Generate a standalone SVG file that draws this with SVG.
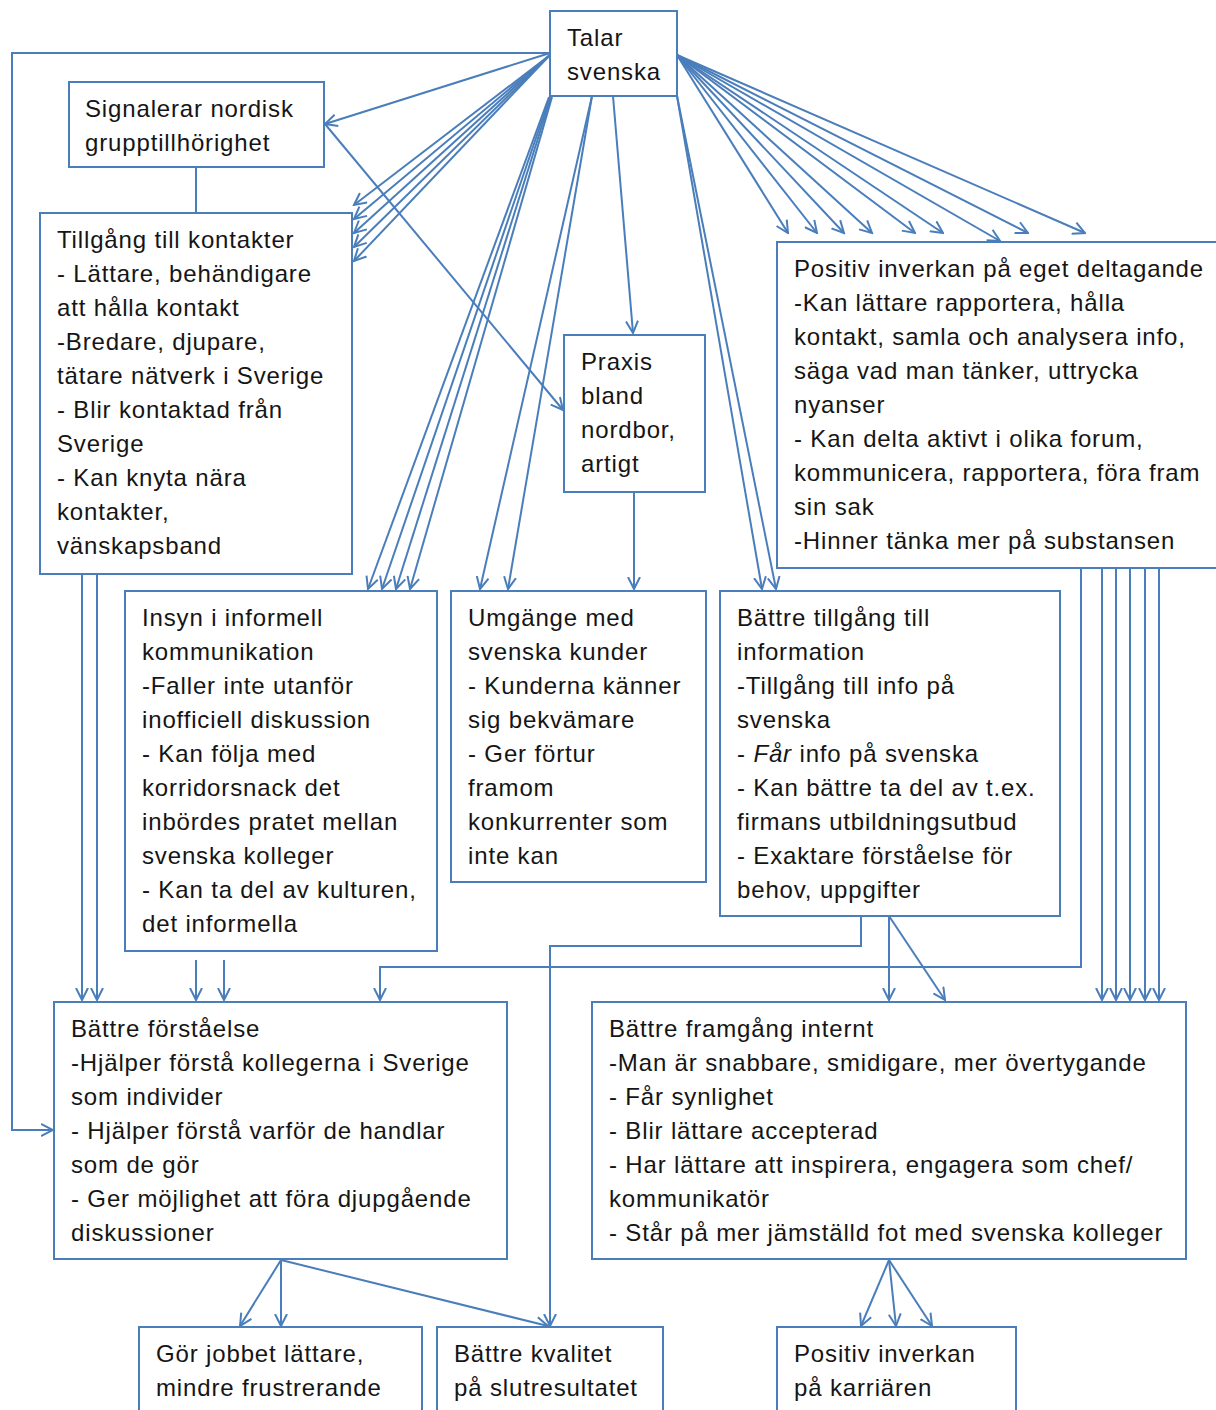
<svg xmlns="http://www.w3.org/2000/svg" width="1216" height="1410" viewBox="0 0 1216 1410">
<style>
.box{fill:#fff;stroke:#4a7ebb;stroke-width:2}
.c{fill:none;stroke:#4a7ebb;stroke-width:2}
.a{fill:none;stroke:#4a7ebb;stroke-width:2;marker-end:url(#ah)}
text{font-family:"Liberation Sans",Arial,sans-serif;font-size:24px;letter-spacing:0.85px;fill:#151515}
</style>
<defs>
<marker id="ah" viewBox="0 0 14 14" refX="12.5" refY="7" markerWidth="14" markerHeight="14" markerUnits="userSpaceOnUse" orient="auto">
<path d="M0.5,1 L12.5,7 L0.5,13" fill="none" stroke="#4a7ebb" stroke-width="2"/>
</marker>
</defs>
<rect width="1216" height="1410" fill="#fff"/>
<g id="connectors">
<polyline class="a" points="550,53 12,53 12,1130 53,1130"/>
<line class="a" x1="550" y1="53" x2="325" y2="124"/>
<line class="a" x1="325" y1="124" x2="563" y2="410"/>
<line class="c" x1="196" y1="167" x2="196" y2="213"/>
<line class="a" x1="550" y1="55" x2="354" y2="205"/>
<line class="a" x1="550" y1="55" x2="354" y2="219"/>
<line class="a" x1="550" y1="55" x2="354" y2="233"/>
<line class="a" x1="550" y1="55" x2="354" y2="247"/>
<line class="a" x1="550" y1="55" x2="354" y2="261"/>
<line class="a" x1="549" y1="97" x2="368" y2="589"/>
<line class="a" x1="550" y1="97" x2="382" y2="589"/>
<line class="a" x1="551" y1="97" x2="396" y2="589"/>
<line class="a" x1="552" y1="97" x2="410" y2="589"/>
<line class="a" x1="592" y1="96" x2="480" y2="589"/>
<line class="a" x1="592" y1="96" x2="508" y2="589"/>
<line class="a" x1="613" y1="96" x2="633" y2="333"/>
<line class="a" x1="634" y1="492" x2="634" y2="589"/>
<line class="a" x1="677" y1="96" x2="762" y2="589"/>
<line class="a" x1="677" y1="96" x2="776" y2="589"/>
<line class="a" x1="677" y1="55" x2="788" y2="233"/>
<line class="a" x1="677" y1="55" x2="817" y2="233"/>
<line class="a" x1="677" y1="55" x2="844" y2="233"/>
<line class="a" x1="677" y1="55" x2="872" y2="233"/>
<line class="a" x1="677" y1="55" x2="915" y2="233"/>
<line class="a" x1="677" y1="55" x2="943" y2="233"/>
<line class="a" x1="677" y1="55" x2="1000" y2="241"/>
<line class="a" x1="677" y1="55" x2="1028" y2="233"/>
<line class="a" x1="677" y1="55" x2="1085" y2="233"/>
<polyline class="a" points="1081,568 1081,967 380,967 380,1000"/>
<line class="a" x1="1102" y1="568" x2="1102" y2="1000"/>
<line class="a" x1="1116" y1="568" x2="1116" y2="1000"/>
<line class="a" x1="1130" y1="568" x2="1130" y2="1000"/>
<line class="a" x1="1145" y1="568" x2="1145" y2="1000"/>
<line class="a" x1="1159" y1="568" x2="1159" y2="1000"/>
<line class="a" x1="82" y1="574" x2="82" y2="1000"/>
<line class="a" x1="97" y1="574" x2="97" y2="1000"/>
<line class="a" x1="196" y1="960" x2="196" y2="1000"/>
<line class="a" x1="224" y1="960" x2="224" y2="1000"/>
<polyline class="a" points="861,916 861,946 550,946 550,1326"/>
<line class="a" x1="889" y1="916" x2="889" y2="1000"/>
<line class="a" x1="889" y1="916" x2="945" y2="1000"/>
<line class="a" x1="281" y1="1260" x2="240" y2="1326"/>
<line class="a" x1="281" y1="1260" x2="281" y2="1326"/>
<line class="a" x1="281" y1="1260" x2="548" y2="1326"/>
<line class="a" x1="889" y1="1260" x2="861" y2="1326"/>
<line class="a" x1="889" y1="1260" x2="896" y2="1326"/>
<line class="a" x1="889" y1="1260" x2="932" y2="1326"/>
</g>
<g id="talar">
<rect class="box" x="550" y="11" width="127" height="85"/>
<text x="567" y="46">Talar</text>
<text x="567" y="80">svenska</text>
</g>
<g id="signalerar">
<rect class="box" x="69" y="82" width="255" height="85"/>
<text x="85" y="117">Signalerar nordisk</text>
<text x="85" y="151">grupptillhörighet</text>
</g>
<g id="tillgang">
<rect class="box" x="40" y="213" width="312" height="361"/>
<text x="57" y="248">Tillgång till kontakter</text>
<text x="57" y="282">- Lättare, behändigare</text>
<text x="57" y="316">att hålla kontakt</text>
<text x="57" y="350">-Bredare, djupare,</text>
<text x="57" y="384">tätare nätverk i Sverige</text>
<text x="57" y="418">- Blir kontaktad från</text>
<text x="57" y="452">Sverige</text>
<text x="57" y="486">- Kan knyta nära</text>
<text x="57" y="520">kontakter,</text>
<text x="57" y="554">vänskapsband</text>
</g>
<g id="praxis">
<rect class="box" x="564" y="335" width="141" height="157"/>
<text x="581" y="370">Praxis</text>
<text x="581" y="404">bland</text>
<text x="581" y="438">nordbor,</text>
<text x="581" y="472">artigt</text>
</g>
<g id="positiv-eget">
<rect class="box" x="777" y="242" width="450" height="326"/>
<text x="794" y="277">Positiv inverkan på eget deltagande</text>
<text x="794" y="311">-Kan lättare rapportera, hålla</text>
<text x="794" y="345">kontakt, samla och analysera info,</text>
<text x="794" y="379">säga vad man tänker, uttrycka</text>
<text x="794" y="413">nyanser</text>
<text x="794" y="447">- Kan delta aktivt i olika forum,</text>
<text x="794" y="481">kommunicera, rapportera, föra fram</text>
<text x="794" y="515">sin sak</text>
<text x="794" y="549">-Hinner tänka mer på substansen</text>
</g>
<g id="insyn">
<rect class="box" x="125" y="591" width="312" height="360"/>
<text x="142" y="626">Insyn i informell</text>
<text x="142" y="660">kommunikation</text>
<text x="142" y="694">-Faller inte utanför</text>
<text x="142" y="728">inofficiell diskussion</text>
<text x="142" y="762">- Kan följa med</text>
<text x="142" y="796">korridorsnack det</text>
<text x="142" y="830">inbördes pratet mellan</text>
<text x="142" y="864">svenska kolleger</text>
<text x="142" y="898">- Kan ta del av kulturen,</text>
<text x="142" y="932">det informella</text>
</g>
<g id="umgange">
<rect class="box" x="451" y="591" width="255" height="291"/>
<text x="468" y="626">Umgänge med</text>
<text x="468" y="660">svenska kunder</text>
<text x="468" y="694">- Kunderna känner</text>
<text x="468" y="728">sig bekvämare</text>
<text x="468" y="762">- Ger förtur</text>
<text x="468" y="796">framom</text>
<text x="468" y="830">konkurrenter som</text>
<text x="468" y="864">inte kan</text>
</g>
<g id="battre-tillgang">
<rect class="box" x="720" y="591" width="340" height="325"/>
<text x="737" y="626">Bättre tillgång till</text>
<text x="737" y="660">information</text>
<text x="737" y="694">-Tillgång till info på</text>
<text x="737" y="728">svenska</text>
<text x="737" y="762">- <tspan font-style="italic">Får</tspan> info på svenska</text>
<text x="737" y="796">- Kan bättre ta del av t.ex.</text>
<text x="737" y="830">firmans utbildningsutbud</text>
<text x="737" y="864">- Exaktare förståelse för</text>
<text x="737" y="898">behov, uppgifter</text>
</g>
<g id="battre-forstaelse">
<rect class="box" x="54" y="1002" width="453" height="257"/>
<text x="71" y="1037">Bättre förståelse</text>
<text x="71" y="1071">-Hjälper förstå kollegerna i Sverige</text>
<text x="71" y="1105">som individer</text>
<text x="71" y="1139">- Hjälper förstå varför de handlar</text>
<text x="71" y="1173">som de gör</text>
<text x="71" y="1207">- Ger möjlighet att föra djupgående</text>
<text x="71" y="1241">diskussioner</text>
</g>
<g id="battre-framgang">
<rect class="box" x="592" y="1002" width="594" height="257"/>
<text x="609" y="1037">Bättre framgång internt</text>
<text x="609" y="1071">-Man är snabbare, smidigare, mer övertygande</text>
<text x="609" y="1105">- Får synlighet</text>
<text x="609" y="1139">- Blir lättare accepterad</text>
<text x="609" y="1173">- Har lättare att inspirera, engagera som chef/</text>
<text x="609" y="1207">kommunikatör</text>
<text x="609" y="1241">- Står på mer jämställd fot med svenska kolleger</text>
</g>
<g id="gor-jobbet">
<rect class="box" x="139" y="1327" width="283" height="100"/>
<text x="156" y="1362">Gör jobbet lättare,</text>
<text x="156" y="1396">mindre frustrerande</text>
</g>
<g id="battre-kvalitet">
<rect class="box" x="437" y="1327" width="226" height="100"/>
<text x="454" y="1362">Bättre kvalitet</text>
<text x="454" y="1396">på slutresultatet</text>
</g>
<g id="positiv-karriar">
<rect class="box" x="777" y="1327" width="239" height="100"/>
<text x="794" y="1362">Positiv inverkan</text>
<text x="794" y="1396">på karriären</text>
</g>
</svg>
